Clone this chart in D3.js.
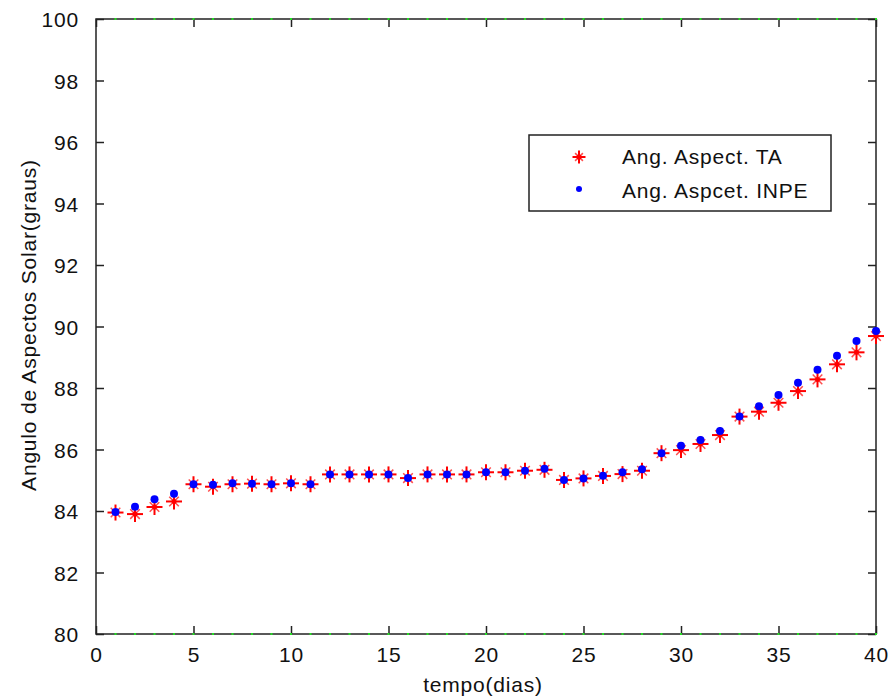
<!DOCTYPE html>
<html><head><meta charset="utf-8">
<script src="https://cdn.jsdelivr.net/npm/d3@7"></script>
<style>
body{margin:0;background:#fff;}
text{font-family:"Liberation Sans",Arial,sans-serif;fill:#111;}
</style></head><body>
<svg id="c" width="888" height="698"></svg>
<script>
const days = d3.range(1, 41);
const seriesTA = [83.95,83.90,84.13,84.31,84.87,84.79,84.87,84.89,84.87,84.90,84.87,85.19,85.19,85.19,85.19,85.07,85.19,85.19,85.19,85.26,85.26,85.31,85.34,85.01,85.06,85.14,85.20,85.31,85.88,85.98,86.18,86.47,87.07,87.23,87.52,87.90,88.28,88.77,89.16,89.69];
const seriesINPE = [83.97,84.14,84.38,84.56,84.87,84.85,84.90,84.89,84.87,84.90,84.87,85.19,85.19,85.19,85.19,85.07,85.19,85.19,85.19,85.26,85.26,85.31,85.37,85.01,85.06,85.15,85.26,85.36,85.88,86.12,86.31,86.60,87.07,87.41,87.77,88.17,88.59,89.05,89.53,89.85];
const boundLow = 80, boundHigh = 100;
const xTicks = [0,5,10,15,20,25,30,35,40];
const yTicks = [80,82,84,86,88,90,92,94,96,98,100];
const legendLabels = ["Ang. Aspect. TA","Ang. Aspcet. INPE"];
const xLabel = "tempo(dias)";
const yLabel = "Angulo de Aspectos Solar(graus)";

const svg = d3.select("#c");
const L=96, R=876, T=19, B=634;
const x = d3.scaleLinear().domain([0,40]).range([L,R]);
const y = d3.scaleLinear().domain([80,100]).range([B,T]);
const fs = "21px", ls = "0.8px";
const axColor = "#222";

// frame
svg.append("rect").attr("x",L).attr("y",T).attr("width",R-L).attr("height",B-T)
  .attr("fill","none").attr("stroke",axColor).attr("stroke-width",1.5);

// axes with inward ticks
const tl = 8;
const gb = svg.append("g").attr("transform",`translate(0,${B})`)
  .call(d3.axisBottom(x).tickValues(xTicks).tickSizeInner(-tl).tickSizeOuter(0).tickPadding(13));
const gt = svg.append("g").attr("transform",`translate(0,${T})`)
  .call(d3.axisTop(x).tickValues(xTicks).tickSizeInner(-tl).tickSizeOuter(0).tickFormat(""));
const gl = svg.append("g").attr("transform",`translate(${L},0)`)
  .call(d3.axisLeft(y).tickValues(yTicks).tickSizeInner(-tl).tickSizeOuter(0).tickPadding(17));
const gr = svg.append("g").attr("transform",`translate(${R},0)`)
  .call(d3.axisRight(y).tickValues(yTicks).tickSizeInner(-tl).tickSizeOuter(0).tickFormat(""));
[gb,gt,gl,gr].forEach(g=>{
  g.select(".domain").remove();
  g.selectAll(".tick line").attr("stroke",axColor).attr("stroke-width",1.5);
  g.selectAll("text").style("font-size",fs).style("letter-spacing",ls).attr("fill","#111");
});
gb.selectAll("text").attr("dy","0.71em");
gl.selectAll("text").attr("dy","0.36em");

// green boundary dots
const gd = svg.append("g");
[boundLow,boundHigh].forEach(v=>{
  gd.selectAll(null).data(days).enter().append("rect")
    .attr("x",d=>x(d)-1).attr("y",y(v)-1).attr("width",2).attr("height",2).attr("fill","#22dd22");
});

// star marker
function star(g, cx, cy, s){
  const a = s/2, b = s*0.3;
  const p = g.append("g").attr("transform",`translate(${cx},${cy})`)
    .attr("stroke","#ff0000").attr("stroke-width",2).attr("stroke-linecap","butt");
  p.append("line").attr("x1",-a).attr("x2",a).attr("y1",0).attr("y2",0);
  p.append("line").attr("y1",-a).attr("y2",a).attr("x1",0).attr("x2",0);
  p.append("line").attr("x1",-b).attr("x2",b).attr("y1",-b).attr("y2",b).attr("stroke-width",1.5).attr("stroke-opacity",0.7);
  p.append("line").attr("x1",-b).attr("x2",b).attr("y1",b).attr("y2",-b).attr("stroke-width",1.5).attr("stroke-opacity",0.7);
  p.append("circle").attr("r",2.5).attr("fill","#ff0000").attr("stroke","none");
}
const gs = svg.append("g");
days.forEach((d,i)=>star(gs, x(d), y(seriesTA[i]), 16));
svg.append("g").selectAll("circle").data(days).enter().append("circle")
  .attr("cx",d=>x(d)).attr("cy",(d,i)=>y(seriesINPE[i])).attr("r",4).attr("fill","#0000ff");

// legend
const lg = svg.append("g");
lg.append("rect").attr("x",529).attr("y",135).attr("width",302).attr("height",76)
  .attr("fill","#fff").attr("stroke",axColor).attr("stroke-width",1.5);
star(lg, 579, 157, 13);
lg.append("circle").attr("cx",579).attr("cy",189).attr("r",3).attr("fill","#0000ff");
lg.selectAll("text.l").data(legendLabels).enter().append("text").attr("class","l")
  .attr("x",622).attr("y",(d,i)=>164+i*34).text(d=>d)
  .style("font-size",fs).style("letter-spacing",ls);

// axis labels
svg.append("text").attr("x",483).attr("y",692).attr("text-anchor","middle")
  .style("font-size",fs).style("letter-spacing",ls).text(xLabel);
svg.append("text").attr("transform","translate(36,325) rotate(-90)").attr("text-anchor","middle")
  .style("font-size",fs).style("letter-spacing",ls).text(yLabel);
</script></body></html>
